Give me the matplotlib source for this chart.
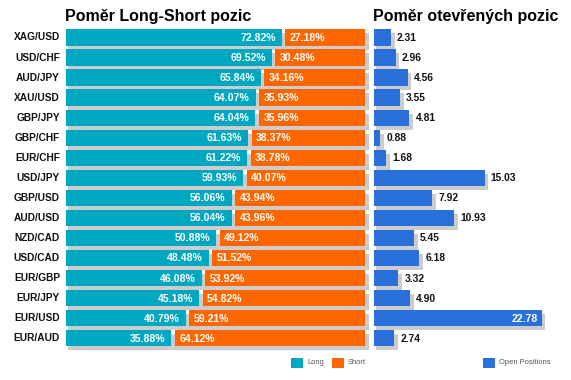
import matplotlib
matplotlib.use("Agg")
import matplotlib.pyplot as plt
from matplotlib.patches import Rectangle

# --- data ---
pairs = ["XAG/USD", "USD/CHF", "AUD/JPY", "XAU/USD", "GBP/JPY", "GBP/CHF", "EUR/CHF", "USD/JPY",
         "GBP/USD", "AUD/USD", "NZD/CAD", "USD/CAD", "EUR/GBP", "EUR/JPY", "EUR/USD", "EUR/AUD"]
long_pct = [72.82, 69.52, 65.84, 64.07, 64.04, 61.63, 61.22, 59.93,
            56.06, 56.04, 50.88, 48.48, 46.08, 45.18, 40.79, 35.88]
short_pct = [27.18, 30.48, 34.16, 35.93, 35.96, 38.37, 38.78, 40.07,
             43.94, 43.96, 49.12, 51.52, 53.92, 54.82, 59.21, 64.12]
open_pos = [2.31, 2.96, 4.56, 3.55, 4.81, 0.88, 1.68, 15.03,
            7.92, 10.93, 5.45, 6.18, 3.32, 4.90, 22.78, 2.74]

TEAL = "#00A7C1"
ORANGE = "#FF6600"
BLUE = "#2A70DA"
SHADOW = "#CCCCCC"
FONT = "Liberation Sans"

W, H = 571, 380
fig = plt.figure(figsize=(W / 100, H / 100), dpi=100)


def fx(px):
    return px / W


def fy(py):
    return 1 - py / H


# row geometry (pixels)
row0 = 37.5
pitch = 20.05
top = row0 - pitch / 2
bottom = row0 + pitch * (len(pairs) - 0.5)
bar_h = 16.4 / pitch
sh_dy = 4 / pitch

# left panel: 0..100 -> 66..365 px
axL = fig.add_axes([fx(66), fy(bottom), fx(365 - 66), (bottom - top) / H])
axL.set_xlim(0, 100)
axL.set_ylim(len(pairs) - 0.5, -0.5)
pxL = 100 / (365 - 66)

# right panel: 7.36 px per unit starting at 374
axR = fig.add_axes([fx(374), fy(bottom), fx(560 - 374), (bottom - top) / H])
axR.set_xlim(0, (560 - 374) / 7.36)
axR.set_ylim(len(pairs) - 0.5, -0.5)
pxR = 1 / 7.36

for ax in (axL, axR):
    ax.axis("off")

for i, (lp, sp, op) in enumerate(zip(long_pct, short_pct, open_pos)):
    y0 = i - bar_h / 2
    # shadow behind the stacked bar
    axL.add_patch(Rectangle((2 * pxL, y0 + sh_dy), lp + sp + 2 * pxL, bar_h,
                            color=SHADOW, lw=0, clip_on=False, zorder=1))
    axL.add_patch(Rectangle((0, y0), lp - 2 * pxL, bar_h, color=TEAL, lw=0, zorder=2))
    axL.add_patch(Rectangle((lp + 1.5 * pxL, y0), sp - 1.5 * pxL, bar_h, color=ORANGE, lw=0, zorder=2))
    axL.text(lp - 8 * pxL, i + 0.02, f"{lp:.2f}%", color="white", fontsize=7.6, family=FONT,
             fontweight="bold", ha="right", va="center", zorder=3)
    axL.text(lp + 6 * pxL, i + 0.02, f"{sp:.2f}%", color="white", fontsize=7.6, family=FONT,
             fontweight="bold", ha="left", va="center", zorder=3)
    axL.text(-6 * pxL, i, pairs[i], color="#111111", fontsize=7.3, family=FONT,
             fontweight="bold", ha="right", va="center", clip_on=False)

    axR.add_patch(Rectangle((2 * pxR, y0 + sh_dy), op + 1.5 * pxR, bar_h,
                            color=SHADOW, lw=0, clip_on=False, zorder=1))
    axR.add_patch(Rectangle((0, y0), op, bar_h, color=BLUE, lw=0, zorder=2))
    if op > 20:
        axR.text(op - 4 * pxR, i + 0.02, f"{op:.2f}", color="white", fontsize=7.6, family=FONT,
                 fontweight="bold", ha="right", va="center", zorder=3)
    else:
        axR.text(op + 6 * pxR, i + 0.02, f"{op:.2f}", color="#111111", fontsize=7.4, family=FONT,
                 fontweight="bold", ha="left", va="center", zorder=3)

# titles
fig.text(fx(65), fy(21.5), "Poměr Long-Short pozic", fontsize=11.5, fontweight="bold",
         family=FONT, ha="left", va="baseline")
fig.text(fx(373), fy(21.5), "Poměr otevřených pozic", fontsize=11.5, fontweight="bold",
         family=FONT, ha="left", va="baseline")

# legend
legend_items = [(291, TEAL, "Long"), (332, ORANGE, "Short"), (483, BLUE, "Open Positions")]
for x, c, lab in legend_items:
    fig.patches.append(Rectangle((fx(x), fy(367.5)), fx(12), 10 / H, color=c, lw=0,
                                 transform=fig.transFigure, figure=fig))
    fig.text(fx(x + 16), fy(362.5), lab, fontsize=5.4, color="#555555", family=FONT,
             ha="left", va="center")

fig.savefig("out.png", dpi=100)
